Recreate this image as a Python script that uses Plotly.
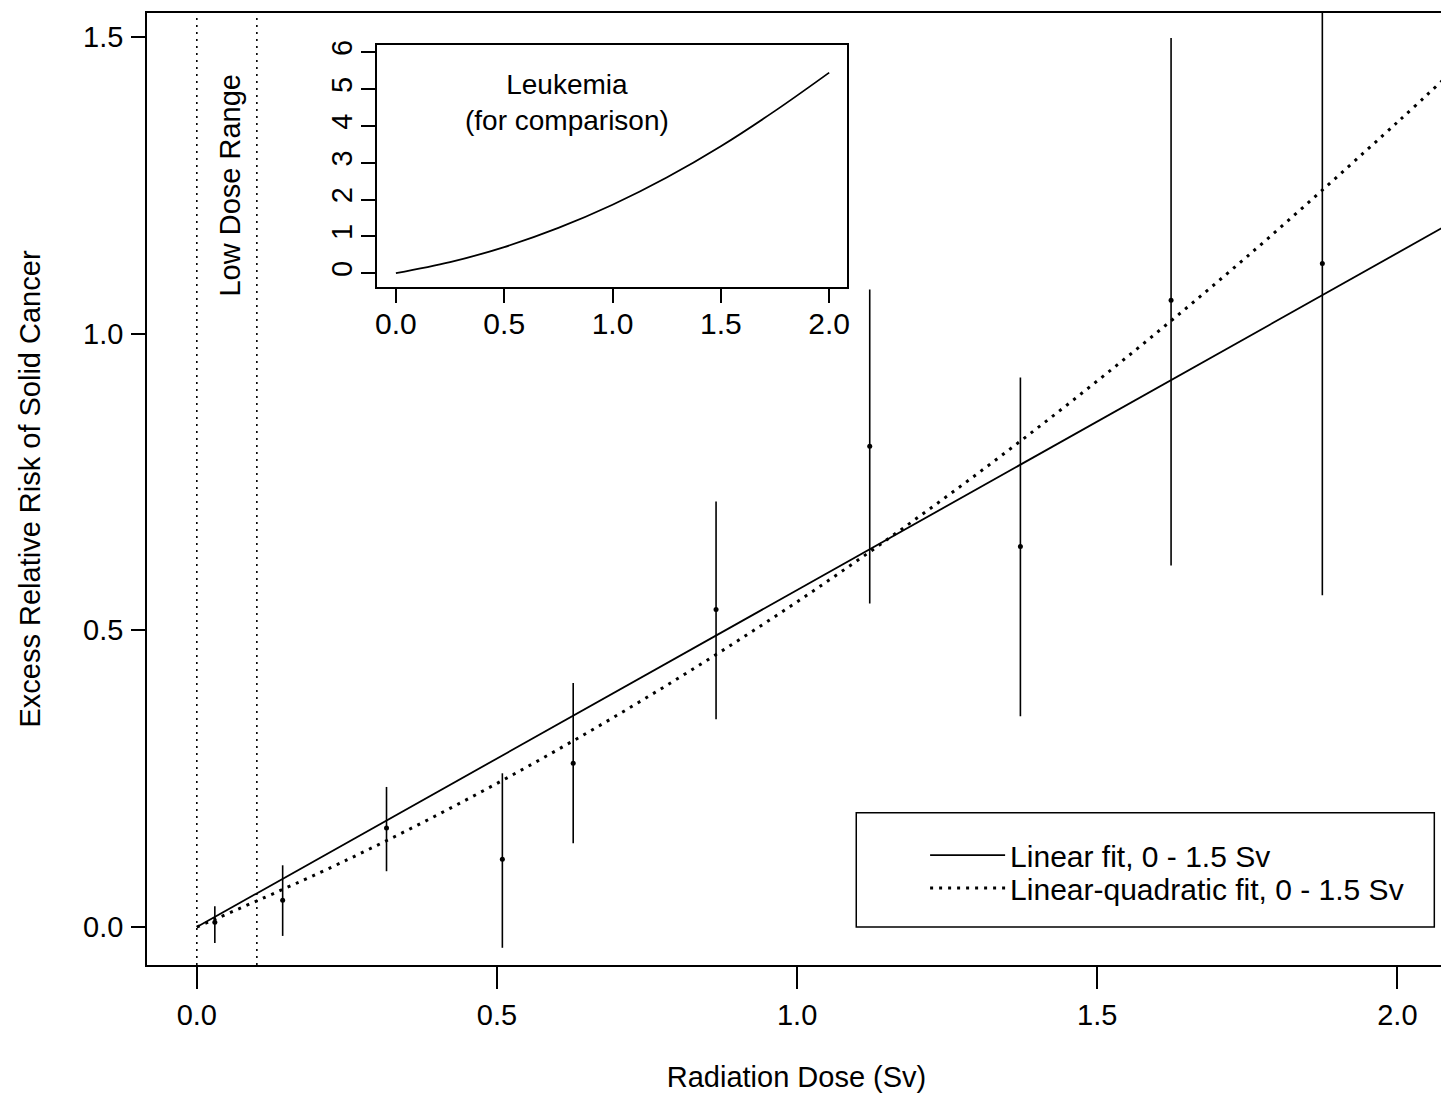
import plotly.graph_objects as go

# ---- data ----
dose = [0.030, 0.143, 0.316, 0.509, 0.627, 0.865, 1.121, 1.372, 1.623, 1.875]
err = [0.008, 0.045, 0.167, 0.114, 0.276, 0.535, 0.810, 0.641, 1.056, 1.118]
err_upper = [0.035, 0.104, 0.236, 0.259, 0.411, 0.717, 1.074, 0.926, 1.498, 1.650]
err_lower = [-0.027, -0.015, 0.094, -0.035, 0.141, 0.350, 0.545, 0.355, 0.609, 0.559]

fit_x = [0.0, 0.25, 0.5, 0.75, 1.0, 1.25, 1.5, 1.75, 2.0, 2.08]
linear_fit = [0.0, 0.142, 0.284, 0.426, 0.568, 0.710, 0.852, 0.994, 1.136, 1.181]
lq_fit = [0.0, 0.113, 0.242, 0.387, 0.548, 0.726, 0.920, 1.130, 1.356, 1.431]

leuk_x = [0.0, 0.25, 0.5, 0.75, 1.0, 1.25, 1.5, 1.75, 2.0]
leuk_y = [0.0, 0.30, 0.71, 1.23, 1.86, 2.60, 3.45, 4.41, 5.45]

low_dose_bounds = [0.0, 0.1]

x_ticks = [0.0, 0.5, 1.0, 1.5, 2.0]
x_ticktext = ["0.0", "0.5", "1.0", "1.5", "2.0"]
y_ticks = [0.0, 0.5, 1.0, 1.5]
y_ticktext = ["0.0", "0.5", "1.0", "1.5"]
inset_y_ticks = [0, 1, 2, 3, 4, 5, 6]

FONT = "Liberation Sans, Arial, sans-serif"

fig = go.Figure()

# error bars with points
fig.add_trace(go.Scatter(
    x=dose, y=err, mode="markers",
    marker=dict(color="black", size=5),
    error_y=dict(type="data", symmetric=False,
                 array=[u - e for u, e in zip(err_upper, err)],
                 arrayminus=[e - l for e, l in zip(err, err_lower)],
                 color="black", thickness=1.6, width=0),
    showlegend=False, hoverinfo="skip"))

fig.add_trace(go.Scatter(
    x=fit_x, y=linear_fit, mode="lines",
    line=dict(color="black", width=1.8),
    name="Linear fit, 0 - 1.5 Sv", legend="legend"))

fig.add_trace(go.Scatter(
    x=fit_x, y=lq_fit, mode="lines", line_shape="spline",
    line=dict(color="black", width=3, dash="3px,6px"),
    name="Linear-quadratic fit, 0 - 1.5 Sv", legend="legend2"))

# low dose range boundaries
for xb in low_dose_bounds:
    fig.add_shape(type="line", xref="x", yref="paper", x0=xb, x1=xb, y0=0, y1=1,
                  line=dict(color="black", width=1.6, dash="2px,5px"))

fig.add_annotation(x=0.055, y=1.249, xref="x", yref="y", text="Low Dose Range",
                   textangle=-90, showarrow=False,
                   font=dict(family=FONT, size=29, color="black"))

# inset: leukemia
fig.add_trace(go.Scatter(
    x=leuk_x, y=leuk_y, mode="lines", line_shape="spline",
    line=dict(color="black", width=1.8),
    xaxis="x2", yaxis="y2", showlegend=False, hoverinfo="skip"))

fig.add_annotation(x=0.79, y=4.65, xref="x2", yref="y2",
                   text="Leukemia<br>(for comparison)",
                   showarrow=False, font=dict(family=FONT, size=28, color="black"))

# legend box
fig.add_shape(type="rect", xref="paper", yref="paper",
              x0=0.546, x1=0.991, y0=0.040, y1=0.160,
              line=dict(color="black", width=1.5), fillcolor="rgba(0,0,0,0)")

legend_common = dict(x=0.599, xanchor="left", yanchor="middle",
                     bgcolor="rgba(0,0,0,0)", borderwidth=0,
                     font=dict(family=FONT, size=30, color="black"),
                     itemwidth=75, tracegroupgap=0)

fig.update_layout(
    width=1441, height=1087,
    margin=dict(l=139, r=0, t=4, b=130),
    paper_bgcolor="white", plot_bgcolor="white",
    font=dict(family=FONT, size=28, color="black"),
    legend=dict(y=0.1154, **legend_common),
    legend2=dict(y=0.0808, **legend_common),
    xaxis=dict(range=[-0.083, 2.081], tickvals=x_ticks, ticktext=x_ticktext,
               ticks="outside", ticklen=22, tickwidth=1.5, tickcolor="black",
               showline=True, linecolor="black", linewidth=1.5, mirror=True,
               showgrid=False, zeroline=False, ticklabelstandoff=1,
               tickfont=dict(family=FONT, size=29),
               title=dict(text="Radiation Dose (Sv)", standoff=37,
                          font=dict(family=FONT, size=29))),
    yaxis=dict(range=[-0.064, 1.540], tickvals=y_ticks, ticktext=y_ticktext,
               ticks="outside", ticklen=14, tickwidth=1.5, tickcolor="black",
               showline=True, linecolor="black", linewidth=1.5,
               showgrid=False, zeroline=False, ticklabelstandoff=2,
               tickfont=dict(family=FONT, size=29),
               title=dict(text="Excess Relative Risk of Solid Cancer", standoff=34,
                          font=dict(family=FONT, size=29))),
    xaxis2=dict(domain=[0.177, 0.539], anchor="y2", range=[-0.0876, 2.083],
                tickvals=x_ticks, ticktext=x_ticktext,
                ticks="outside", ticklen=14, tickwidth=1.5, tickcolor="black",
                showline=True, linecolor="black", linewidth=1.5, mirror=True,
                showgrid=False, zeroline=False, ticklabelstandoff=-5,
                tickfont=dict(family=FONT, size=30)),
    yaxis2=dict(domain=[0.712, 0.966], anchor="x2", range=[-0.38, 6.19],
                tickvals=inset_y_ticks, tickangle=-90,
                ticks="outside", ticklen=14, tickwidth=1.5, tickcolor="black",
                showline=True, linecolor="black", linewidth=1.5, mirror=True,
                showgrid=False, zeroline=False, ticklabelstandoff=-2,
                tickfont=dict(family=FONT, size=29)),
)

fig.write_html("out.html")
